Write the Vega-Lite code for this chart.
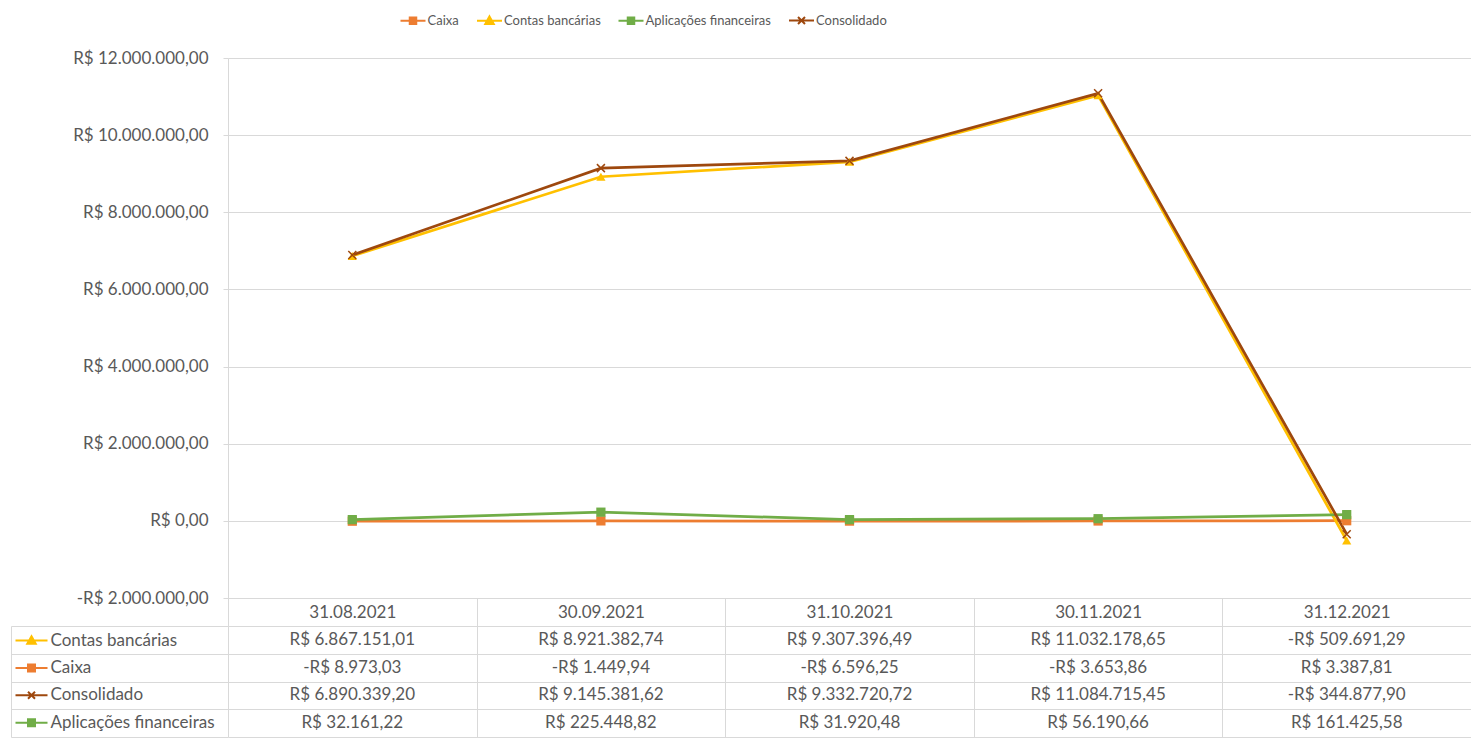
{
  "$schema": "https://vega.github.io/schema/vega-lite/v6.json",
  "background": "white",
  "padding": {"left": 10, "top": 14, "right": 0, "bottom": 0},
  "autosize": {"type": "pad"},
  "spacing": 28,
  "bounds": "flush",
  "config": {
    "font": "Lato",
    "view": {"stroke": null},
    "locale": {"number": {"decimal": ",", "thousands": ".", "grouping": [3], "currency": ["R$ ", ""], "minus": "-"}}
  },
  "resolve": {"scale": {"color": "independent"}},
  "datasets": {
    "vals": [
      {"series": "Caixa", "date": "31.08.2021", "value": -8973.03},
      {"series": "Caixa", "date": "30.09.2021", "value": -1449.94},
      {"series": "Caixa", "date": "31.10.2021", "value": -6596.25},
      {"series": "Caixa", "date": "30.11.2021", "value": -3653.86},
      {"series": "Caixa", "date": "31.12.2021", "value": 3387.81},
      {"series": "Contas bancárias", "date": "31.08.2021", "value": 6867151.01},
      {"series": "Contas bancárias", "date": "30.09.2021", "value": 8921382.74},
      {"series": "Contas bancárias", "date": "31.10.2021", "value": 9307396.49},
      {"series": "Contas bancárias", "date": "30.11.2021", "value": 11032178.65},
      {"series": "Contas bancárias", "date": "31.12.2021", "value": -509691.29},
      {"series": "Aplicações financeiras", "date": "31.08.2021", "value": 32161.22},
      {"series": "Aplicações financeiras", "date": "30.09.2021", "value": 225448.82},
      {"series": "Aplicações financeiras", "date": "31.10.2021", "value": 31920.48},
      {"series": "Aplicações financeiras", "date": "30.11.2021", "value": 56190.66},
      {"series": "Aplicações financeiras", "date": "31.12.2021", "value": 161425.58},
      {"series": "Consolidado", "date": "31.08.2021", "value": 6890339.20},
      {"series": "Consolidado", "date": "30.09.2021", "value": 9145381.62},
      {"series": "Consolidado", "date": "31.10.2021", "value": 9332720.72},
      {"series": "Consolidado", "date": "30.11.2021", "value": 11084715.45},
      {"series": "Consolidado", "date": "31.12.2021", "value": -344877.90}
    ]
  },
  "vconcat": [
    {
      "width": 1243,
      "height": 540,
      "data": {"name": "vals"},
      "encoding": {
        "x": {
          "field": "date", "type": "nominal",
          "sort": ["31.08.2021", "30.09.2021", "31.10.2021", "30.11.2021", "31.12.2021"],
          "scale": {"type": "band", "paddingInner": 0, "paddingOuter": 0},
          "axis": {
            "title": null, "orient": "bottom", "grid": false,
            "domain": true, "domainColor": "#d9d9d9",
            "ticks": true, "tickBand": "extent", "tickSize": 28, "tickColor": "#d9d9d9",
            "labelAngle": 0, "labelBaseline": "middle", "labelPadding": -14,
            "labelFontSize": 17, "labelColor": "#595959", "labelFont": "Lato"
          }
        },
        "y": {
          "field": "value", "type": "quantitative",
          "scale": {"domain": [-2000000, 12000000], "nice": false, "zero": false},
          "axis": {
            "title": null,
            "values": [-2000000, 0, 2000000, 4000000, 6000000, 8000000, 10000000, 12000000],
            "format": "$,.2f",
            "grid": true, "gridColor": "#d9d9d9",
            "domain": true, "domainColor": "#d9d9d9",
            "ticks": true, "tickSize": 5, "tickColor": "#d9d9d9",
            "labelPadding": 15, "labelFontSize": 17, "labelColor": "#595959", "labelFont": "Lato"
          }
        },
        "color": {
          "field": "series", "type": "nominal",
          "scale": {
            "domain": ["Caixa", "Contas bancárias", "Aplicações financeiras", "Consolidado"],
            "range": ["#ED7D31", "#FFC000", "#70AD47", "#9E480E"]
          },
          "legend": {
            "orient": "none", "legendX": 178.5, "legendY": -44,
            "direction": "horizontal", "columns": 4, "title": null, "padding": 0,
            "labelFontSize": 13, "labelColor": "#595959", "labelFont": "Lato", "labelLimit": 300,
            "symbolSize": 100, "symbolStrokeWidth": 2,
            "labelOffset": 8, "columnPadding": 13.5,
            "encode": {
              "symbols": {
                "update": {
                  "shape": {"signal": "datum.value == 'Consolidado' ? 'M-2.5,0H2.5M-0.7,-0.7L0.7,0.7M-0.7,0.7L0.7,-0.7' : datum.value == 'Contas bancárias' ? 'M-2.5,0H2.5M0,-0.85L0.85,0.65L-0.85,0.65Z' : 'M-2.5,0H2.5M-0.65,-0.65H0.65V0.65H-0.65Z'"},
                  "fill": {"signal": "datum.value == 'Caixa' ? '#ED7D31' : datum.value == 'Contas bancárias' ? '#FFC000' : datum.value == 'Aplicações financeiras' ? '#70AD47' : '#9E480E'"},
                  "stroke": {"signal": "datum.value == 'Caixa' ? '#ED7D31' : datum.value == 'Contas bancárias' ? '#FFC000' : datum.value == 'Aplicações financeiras' ? '#70AD47' : '#9E480E'"},
                  "strokeWidth": {"value": 2},
                  "opacity": {"value": 1},
                  "fillOpacity": {"value": 1},
                  "strokeOpacity": {"value": 1}
                }
              }
            }
          }
        }
      },
      "layer": [
        {"mark": {"type": "line", "strokeWidth": 2.75}},
        {
          "transform": [{"filter": "datum.series != 'Consolidado'"}],
          "mark": {"type": "point", "filled": true, "opacity": 1, "size": 85},
          "encoding": {
            "shape": {
              "field": "series", "type": "nominal",
              "scale": {"domain": ["Caixa", "Contas bancárias", "Aplicações financeiras"], "range": ["square", "triangle-up", "square"]},
              "legend": null
            }
          }
        },
        {
          "transform": [{"filter": "datum.series == 'Consolidado'"}],
          "mark": {"type": "point", "shape": "M-1,-1L1,1M-1,1L1,-1", "filled": false, "size": 64, "strokeWidth": 1.5, "opacity": 1}
        }
      ]
    },
    {
      "width": 1243,
      "height": 111,
      "data": {"name": "vals"},
      "encoding": {
        "x": {
          "field": "date", "type": "nominal",
          "sort": ["31.08.2021", "30.09.2021", "31.10.2021", "30.11.2021", "31.12.2021"],
          "scale": {"type": "band", "paddingInner": 0, "paddingOuter": 0},
          "axis": {
            "title": null, "orient": "bottom", "labels": false, "ticks": false, "domain": false,
            "grid": true, "tickBand": "extent", "gridColor": "#d9d9d9"
          }
        },
        "y": {
          "field": "series", "type": "nominal",
          "sort": ["Contas bancárias", "Caixa", "Consolidado", "Aplicações financeiras"],
          "scale": {"type": "band", "paddingInner": 0, "paddingOuter": 0},
          "axis": {
            "title": null, "labels": false,
            "ticks": true, "tickSize": -217, "offset": 217, "tickBand": "extent", "tickColor": "#d9d9d9",
            "domain": true, "domainColor": "#d9d9d9",
            "grid": true, "gridColor": "#d9d9d9"
          }
        },
        "color": {
          "field": "series", "type": "nominal",
          "scale": {
            "domain": ["Contas bancárias", "Caixa", "Consolidado", "Aplicações financeiras"],
            "range": ["#FFC000", "#ED7D31", "#9E480E", "#70AD47"]
          },
          "legend": {
            "orient": "none", "legendX": -205, "legendY": 6,
            "direction": "vertical", "title": null, "padding": 0,
            "labelFontSize": 17, "labelColor": "#595959", "labelFont": "Lato", "labelLimit": 300,
            "symbolSize": 100, "symbolStrokeWidth": 2,
            "labelOffset": 10.5, "rowPadding": 9.4,
            "encode": {
              "symbols": {
                "update": {
                  "shape": {"signal": "datum.value == 'Consolidado' ? 'M-3.2,0H3.2M-0.7,-0.7L0.7,0.7M-0.7,0.7L0.7,-0.7' : datum.value == 'Contas bancárias' ? 'M-3.2,0H3.2M0,-0.85L0.85,0.65L-0.85,0.65Z' : 'M-3.2,0H3.2M-0.7,-0.7H0.7V0.7H-0.7Z'"},
                  "fill": {"signal": "datum.value == 'Caixa' ? '#ED7D31' : datum.value == 'Contas bancárias' ? '#FFC000' : datum.value == 'Aplicações financeiras' ? '#70AD47' : '#9E480E'"},
                  "stroke": {"signal": "datum.value == 'Caixa' ? '#ED7D31' : datum.value == 'Contas bancárias' ? '#FFC000' : datum.value == 'Aplicações financeiras' ? '#70AD47' : '#9E480E'"},
                  "strokeWidth": {"value": 2},
                  "opacity": {"value": 1},
                  "fillOpacity": {"value": 1},
                  "strokeOpacity": {"value": 1}
                }
              }
            }
          }
        }
      },
      "layer": [
        {
          "mark": {"type": "text", "fontSize": 17, "font": "Lato"},
          "encoding": {
            "text": {"field": "value", "type": "quantitative", "format": "$,.2f"},
            "color": {"value": "#595959"}
          }
        },
        {
          "transform": [{"filter": "false"}],
          "mark": {"type": "line", "strokeWidth": 2}
        }
      ]
    }
  ]
}
